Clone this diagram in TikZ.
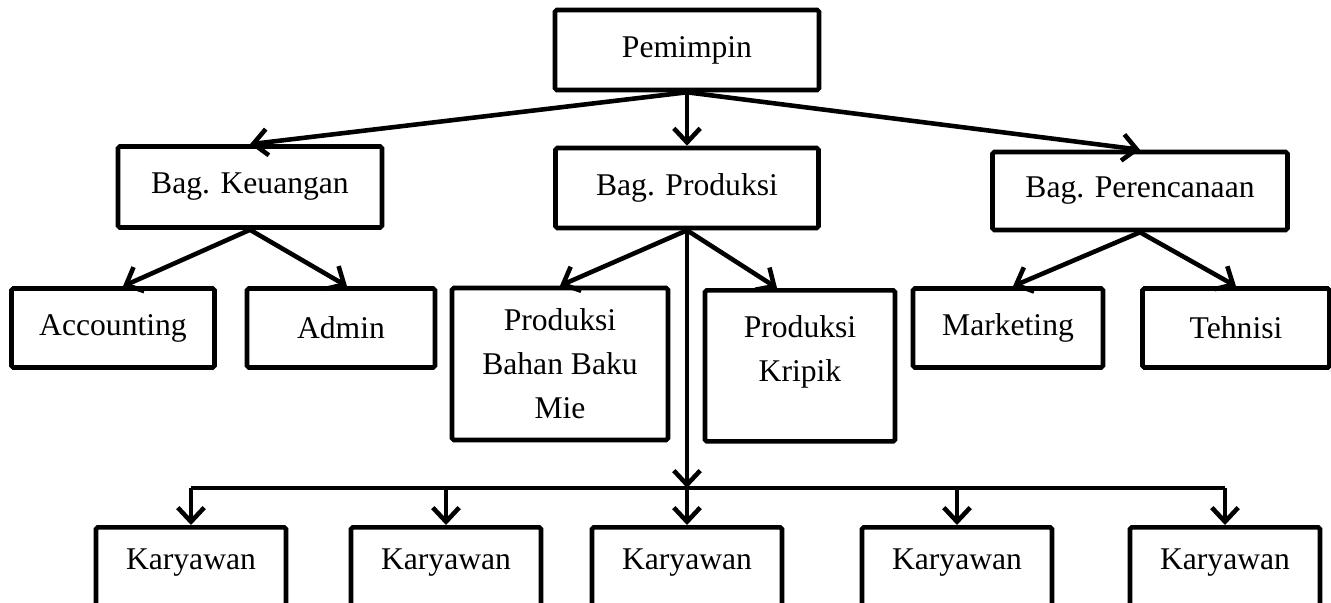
\documentclass[tikz,border=0pt]{standalone}
\usepackage{fontspec}
\setmainfont{Liberation Serif}
\usetikzlibrary{arrows.meta}
\newcommand{\px}{0.02cm}
\tikzset{
  box/.style={draw, line width=2.6pt, rounded corners=1pt, inner sep=0pt,
    align=center, font=\fontsize{18}{25}\selectfont},
  karybox/.style={box, minimum width=190*\px, anchor=north,
    text height=12pt, text depth=62pt, inner ysep=12pt},
  link/.style={line width=2.6pt},
  arr/.style={link, -{Straight Barb[length=8pt,width=15pt]}}
}
\begin{document}
\begin{tikzpicture}[x=\px, y=-\px]
  \useasboundingbox (0,0) rectangle (1331,602);
  % Draw the boxes
  \node[box, minimum width=264*\px, minimum height=80*\px] (pem) at (687,50) {Pemimpin};
  \node[box, minimum width=264*\px, minimum height=81*\px] (keu) at (250,187) {Bag. Keuangan};
  \node[box, minimum width=263*\px, minimum height=80*\px] (prod) at (687,188) {Bag. Produksi};
  \node[box, minimum width=295*\px, minimum height=78*\px] (pere) at (1140,191) {Bag. Perencanaan};
  \node[box, minimum width=203*\px, minimum height=79*\px] (acc) at (113,328) {Accounting};
  \node[box, minimum width=188*\px, minimum height=79*\px] (adm) at (341,328) {Admin};
  \node[box, minimum width=216*\px, minimum height=152*\px] (mie) at (560,364) {Produksi\\Bahan Baku\\Mie};
  \node[box, minimum width=190*\px, anchor=north, text height=40pt, text depth=22pt,
    inner ysep=12pt] (krip) at (800,288) {Produksi\\Kripik};
  \node[box, minimum width=190*\px, minimum height=79*\px] (mark) at (1008,328) {Marketing};
  \node[box, minimum width=187*\px, minimum height=79*\px] (teh) at (1236,328) {Tehnisi};
  \foreach \name/\x in {k1/191, k2/446, k3/687, k4/957, k5/1225}
    \node[karybox] (\name) at (\x,525) {Karyawan};
  % Draw the arrows
  \draw[arr] (pem.south) -- (keu.north);
  \draw[arr] (pem.south) -- (prod.north);
  \draw[arr] (pem.south) -- (pere.north);
  \draw[arr] (keu.south) -- ([xshift=10*\px]acc.north);
  \draw[arr] (keu.south) -- ([xshift=6*\px]adm.north);
  \draw[arr] (prod.south) -- (mie.north);
  \draw[arr] (prod.south) -- ([xshift=-23*\px]krip.north);
  \draw[arr] (pere.south) -- ([xshift=5*\px]mark.north);
  \draw[arr] (pere.south) -- (teh.north);
  % Draw the bus to the Karyawan row
  \coordinate (bus) at (687,488);
  \draw[arr] (prod.south) -- (bus);
  \draw[link] (k1.north |- bus) -- (k5.north |- bus);
  \foreach \name in {k1,k2,k3,k4,k5}
    \draw[arr] (\name.north |- bus) -- (\name.north);
\end{tikzpicture}
\end{document}
